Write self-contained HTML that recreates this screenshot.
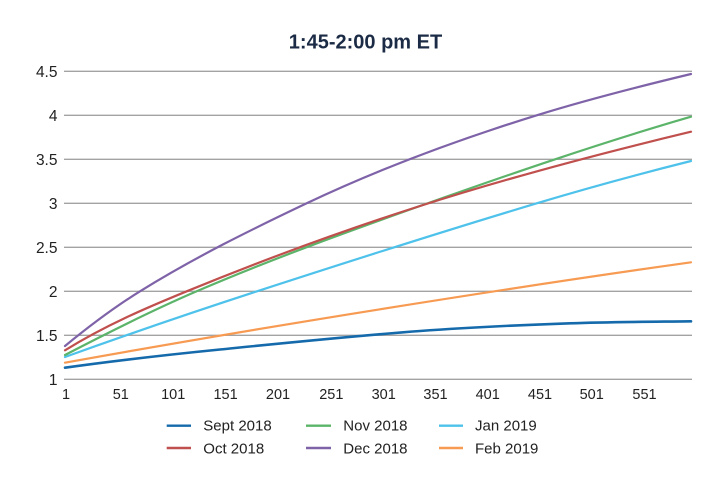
<!DOCTYPE html>
<html>
<head>
<meta charset="utf-8">
<style>
  html,body{margin:0;padding:0;background:#fff;}
  svg{display:block;}
  text{font-family:"Liberation Sans",sans-serif;}
</style>
</head>
<body>
<svg width="720" height="500" viewBox="0 0 720 500" xmlns="http://www.w3.org/2000/svg">
  <rect width="720" height="500" fill="#fff"/>
  <!-- title -->
  <text x="365.5" y="48.5" text-anchor="middle" font-size="20" font-weight="bold" fill="#1b2b45">1:45-2:00 pm ET</text>

  <!-- gridlines -->
  <g stroke="#a3a3a3" stroke-width="1.3">
    <line x1="64" y1="71.3" x2="692" y2="71.3"/>
    <line x1="64" y1="115.3" x2="692" y2="115.3"/>
    <line x1="64" y1="159.3" x2="692" y2="159.3"/>
    <line x1="64" y1="203.3" x2="692" y2="203.3"/>
    <line x1="64" y1="247.3" x2="692" y2="247.3"/>
    <line x1="64" y1="291.3" x2="692" y2="291.3"/>
    <line x1="64" y1="335.3" x2="692" y2="335.3"/>
    <line x1="64" y1="379.3" x2="692" y2="379.3"/>
  </g>

  <!-- y labels -->
  <g font-size="15.5" fill="#222" text-anchor="end">
    <text x="57.5" y="76.8">4.5</text>
    <text x="57.5" y="120.8">4</text>
    <text x="57.5" y="164.8">3.5</text>
    <text x="57.5" y="208.8">3</text>
    <text x="57.5" y="252.8">2.5</text>
    <text x="57.5" y="296.8">2</text>
    <text x="57.5" y="340.8">1.5</text>
    <text x="57.5" y="384.8">1</text>
  </g>

  <!-- x labels -->
  <g font-size="14.5" fill="#222" text-anchor="middle">
    <text x="66" y="399">1</text>
    <text x="120.8" y="399">51</text>
    <text x="173.2" y="399">101</text>
    <text x="225.6" y="399">151</text>
    <text x="278" y="399">201</text>
    <text x="331.3" y="399">251</text>
    <text x="383.7" y="399">301</text>
    <text x="435.5" y="399">351</text>
    <text x="487.7" y="399">401</text>
    <text x="540" y="399">451</text>
    <text x="591.7" y="399">501</text>
    <text x="644.5" y="399">551</text>
  </g>

  <!-- series -->
  <g fill="none" stroke-width="2.2" stroke-linejoin="round" stroke-linecap="round">
    <!-- Feb 2019 -->
    <path stroke="#f79a52" d="M65,362.7 C170,343.8 275,326.1 380,309.3 C483.67,292.71 587.33,276.81 691,262.3"/>
    <!-- Jan 2019 -->
    <path stroke="#4ec2ea" d="M65,357 C129,333.96 193,312.1 257,291.3 C350.23,261.0 443.47,231.27 536.7,203.3 C588.13,187.87 639.57,173.86 691,161"/>
    <!-- Nov 2018 -->
    <path stroke="#5cb46a" d="M65,355 C108.9,332.17 152.6,310.18 196.7,291.3 C271.13,259.3 345.57,232.42 420,206 C510.33,173.93 600.67,142.9 691,116.7"/>
    <!-- Oct 2018 -->
    <path stroke="#c0504d" d="M65,350.3 C105.57,325.15 146.13,307.93 186.7,291.3 C264.47,259.42 342.23,230.89 420,206 C510.33,177.1 600.67,153.38 691,131.7"/>
    <!-- Dec 2018 -->
    <path stroke="#7f63a8" d="M65,346 C90,325.5 115,306.8 140,291.3 C195.57,256.85 251.13,229.7 306.7,203.3 C383.37,166.88 460.03,139.07 536.7,115.3 C588.13,99.36 639.57,86.34 691,74"/>
    <!-- Sept 2018 -->
    <path stroke="#156aab" stroke-width="2.6" d="M65,367.7 C116.67,360.47 168.33,354.67 220,349.5 C286.67,342.83 353.33,336 420,331 C470,327.25 520,325.05 570,323.3 C610.33,321.89 650.67,321.78 691,321.3"/>
  </g>

  <!-- legend -->
  <g stroke-width="2.4">
    <line x1="166.7" y1="425.7" x2="191" y2="425.7" stroke="#156aab"/>
    <line x1="166.7" y1="448" x2="191" y2="448" stroke="#c0504d"/>
    <line x1="306" y1="425.7" x2="331" y2="425.7" stroke="#5cb46a"/>
    <line x1="306" y1="448" x2="331" y2="448" stroke="#7f63a8"/>
    <line x1="439" y1="425.7" x2="463" y2="425.7" stroke="#4ec2ea"/>
    <line x1="439" y1="448" x2="463" y2="448" stroke="#f79a52"/>
  </g>
  <g font-size="15" fill="#222">
    <text x="203.3" y="430.7">Sept 2018</text>
    <text x="203.3" y="453.3">Oct 2018</text>
    <text x="343.3" y="430.7">Nov 2018</text>
    <text x="343.3" y="453.3">Dec 2018</text>
    <text x="475" y="430.7">Jan 2019</text>
    <text x="475" y="453.3">Feb 2019</text>
  </g>
</svg>
</body>
</html>
